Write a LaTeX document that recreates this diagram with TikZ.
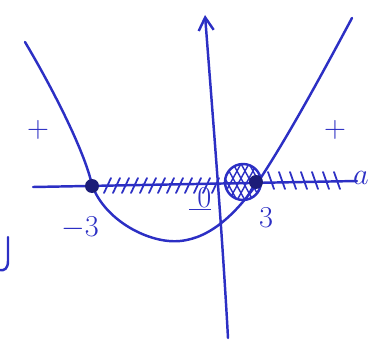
\documentclass[tikz,border=0pt]{standalone}
\usepackage{tikz}
\usepackage{xcolor}
\usetikzlibrary{arrows.meta,positioning,calc}
\definecolor{inkblue}{HTML}{2C2FC4}
\definecolor{inkdark}{HTML}{1C1C78}
\tikzset{
  inkLine/.style={draw=inkblue, line width=1.4pt, line cap=round, line join=round},
  hatchMark/.style={draw=inkblue, line width=1pt, line cap=round},
  inkLabel/.style={text=inkblue, font=\LARGE, inner sep=1pt},
  rootDot/.style={circle, fill=inkdark, minimum size=0.28cm, inner sep=0pt}
}
\begin{document}
\begin{tikzpicture}[x=0.02cm,y=0.02cm]
  \useasboundingbox (0,0) rectangle (382,349);
  % axes
  \coordinate (axisBot) at (228,11);
  \coordinate (axisTop) at (205,334);
  \draw[inkLine, -{Straight Barb[length=2.6mm,width=3mm]}] (axisBot) .. controls (222,120) and (213,230) .. (axisTop);
  \coordinate (lineL) at (33,162);
  \coordinate (lineR) at (357,168);
  \draw[inkLine] (lineL) -- (lineR);
  % parabola
  \draw[inkLine] (25,307) .. controls (50,265) and (84,200) .. (92,164)
    .. controls (105,128) and (150,105) .. (180,108)
    .. controls (212,111) and (238,138) .. (258,167)
    .. controls (290,215) and (330,290) .. (352,331);
  % hatching
  \foreach \x in {104,113,...,212} {
    \draw[hatchMark] (\x,156) -- ++(7,15);
  }
  \foreach \x in {268,279,...,340} {
    \draw[hatchMark] (\x,177) -- ++(6,-17);
  }
  \draw[inkLine] (243,167) circle (18);
  \begin{scope}
    \clip (243,167) circle (18);
    \foreach \d in {-34,-26,...,34} {
      \draw[hatchMark, line width=0.8pt] (243+\d-22,145) -- ++(24,44);
      \draw[hatchMark, line width=0.8pt] (243+\d+22,145) -- ++(-24,44);
    }
  \end{scope}
  % roots
  \node[rootDot] (rootL) at (92,163) {};
  \node[rootDot] (rootR) at (256,167) {};
  % labels
  \node[inkLabel] (plusL) at (38,219) {$+$};
  \node[inkLabel] (plusR) at (335,219) {$+$};
  \node[inkLabel] (labM3) at (80,121) {$-3$};
  \node[inkLabel] (lab0) at (200,150) {$\underline{\;0}$};
  \node[inkLabel] (lab3) at (266,131) {$3$};
  \node[inkLabel] (labA) at (361,171) {$a$};
  % stray strokes
  \draw[inkLine] (8,112) -- (8,88) .. controls (8,80) and (4,78) .. (0,79);
\end{tikzpicture}
\end{document}
